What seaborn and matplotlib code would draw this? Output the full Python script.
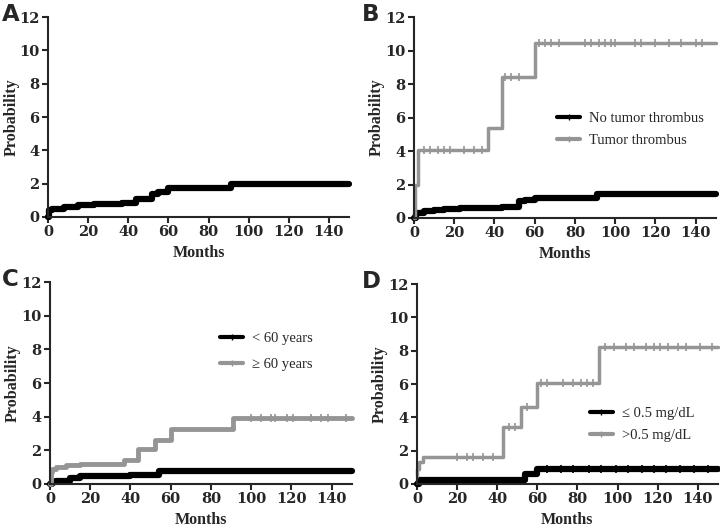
import numpy as np
import pandas as pd
import seaborn as sns
import matplotlib.pyplot as plt
from matplotlib.lines import Line2D

# step data: times where the curve changes, and the level from that time on
a_t = [0, 0.5, 2, 8, 15, 23, 37, 44, 52, 55, 60, 91, 150]
a_p = [0, 0.4, 0.5, 0.6, 0.7, 0.75, 0.85, 1.05, 1.4, 1.5, 1.75, 2.0, 2.0]

b1_t = [0, 1, 5, 10, 15, 23, 44, 52, 55, 60, 91, 150]
b1_p = [0, 0.3, 0.4, 0.5, 0.55, 0.6, 0.65, 1.0, 1.1, 1.2, 1.45, 1.45]
b2_t = [0, 0.5, 2, 37, 44, 60, 150]
b2_p = [0, 2.0, 4.05, 5.4, 8.45, 10.45, 10.45]

c1_t = [0, 1, 3, 10, 15, 23, 40, 54, 150]
c1_p = [0, 0.1, 0.2, 0.35, 0.45, 0.5, 0.55, 0.78, 0.78]
c2_t = [0, 0.5, 1, 3, 8, 15, 37, 44, 52, 60, 91, 150]
c2_p = [0, 0.7, 0.9, 1.0, 1.1, 1.2, 1.4, 2.05, 2.6, 3.25, 3.95, 3.95]

d1_t = [0, 1, 54, 60, 150]
d1_p = [0, 0.25, 0.6, 0.9, 0.9]
d2_t = [0, 0.3, 1, 3, 43, 52, 60, 91, 150]
d2_p = [0.5, 0.9, 1.3, 1.65, 3.45, 4.6, 6.05, 8.25, 8.25]

# censored observations (months)
b2_cens = [5, 8, 12, 15, 18, 25, 30, 34, 45, 48, 52, 62, 65, 68, 72, 85, 88, 92, 95, 98, 100, 110, 113, 120, 127, 133, 140, 143]
c2_cens = [100, 105, 110, 112, 118, 121, 130, 135, 138, 147]
d2_cens = [20, 25, 28, 33, 38, 46, 49, 55, 62, 65, 73, 78, 82, 85, 88, 94, 98, 104, 108, 114, 118, 121, 125, 130, 134, 141, 147]
d1_cens = [65, 72, 78, 86, 92, 99, 105, 112, 118, 124, 131, 138, 145]

black = '#000000'
gray = '#959595'

sns.set_style('ticks')
plt.rcParams['font.family'] = ['Liberation Serif', 'DejaVu Serif']

fig = plt.figure(figsize=(7.2, 5.3), dpi=100)
boxes = {
    'A': [0.0667, 0.5906, 0.418, 0.377],
    'B': [0.575, 0.5887, 0.419, 0.379],
    'C': [0.0694, 0.0868, 0.419, 0.381],
    'D': [0.579, 0.0868, 0.418, 0.377],
}
letter_x = {'A': 0.003, 'B': 0.503, 'C': 0.003, 'D': 0.503}


def step_curve(ax, t, p, color, lw, cens=None):
    sns.lineplot(x=t, y=p, ax=ax, color=color, lw=lw, drawstyle='steps-post',
                 clip_on=False, estimator=None, sort=False)
    if cens:
        idx = np.searchsorted(t, cens, side='right') - 1
        yc = np.array(p)[idx]
        sns.scatterplot(x=cens, y=yc, ax=ax, marker='|', color=color, s=30,
                        linewidth=1.2, clip_on=False)


def style(ax, label):
    ax.set_xlim(0, 150)
    ax.set_ylim(0, 12)
    ax.set_xticks(range(0, 150, 20))
    ax.set_yticks(range(0, 13, 2))
    for s in ['left', 'bottom']:
        ax.spines[s].set_linewidth(1.5)
    sns.despine(ax=ax)
    ax.tick_params(direction='out', length=4, width=1.5, pad=2)
    for lab in ax.get_xticklabels() + ax.get_yticklabels():
        lab.set_fontweight('bold')
        lab.set_family('DejaVu Serif')
        lab.set_fontsize(10.5)
    ax.set_xlabel('Months', fontsize=11.5, fontweight='bold', labelpad=4)
    ax.set_ylabel('Probability', fontsize=11.5, fontweight='bold')
    ax.yaxis.label.set_va('center')
    ax.yaxis.set_label_coords(-0.122, 0.5)
    pos = ax.get_position()
    fig.text(letter_x[label], pos.y1 + 0.005, label, family='DejaVu Sans',
             fontsize=16.5, fontweight='bold', va='center', ha='left')


def add_legend(ax, names, anchor, spacing):
    handles = [Line2D([0], [0], color=black, lw=3, marker='|', markersize=5),
               Line2D([0], [0], color=gray, lw=3, marker='|', markersize=5)]
    ax.legend(handles, names, loc='upper left', bbox_to_anchor=anchor,
              frameon=False, fontsize=10.5, handlelength=1.6,
              handletextpad=0.6, labelspacing=spacing)


ax = fig.add_axes(boxes['A'])
step_curve(ax, a_t, a_p, black, 4.5)
style(ax, 'A')

ax = fig.add_axes(boxes['B'])
step_curve(ax, b1_t, b1_p, black, 4.5)
step_curve(ax, b2_t, b2_p, gray, 2.5, b2_cens)
style(ax, 'B')
add_legend(ax, ['No tumor thrombus', 'Tumor thrombus'], (0.43, 0.595), 0.6)

ax = fig.add_axes(boxes['C'])
step_curve(ax, c1_t, c1_p, black, 4.5)
step_curve(ax, c2_t, c2_p, gray, 3.5, c2_cens)
style(ax, 'C')
add_legend(ax, ['< 60 years', '\u2265 60 years'], (0.52, 0.82), 0.9)

ax = fig.add_axes(boxes['D'])
step_curve(ax, d1_t, d1_p, black, 4.5, d1_cens)
step_curve(ax, d2_t, d2_p, gray, 2.5, d2_cens)
style(ax, 'D')
add_legend(ax, ['\u2264 0.5 mg/dL', '>0.5 mg/dL'], (0.53, 0.45), 0.6)

fig.savefig('out.png', dpi=100)
